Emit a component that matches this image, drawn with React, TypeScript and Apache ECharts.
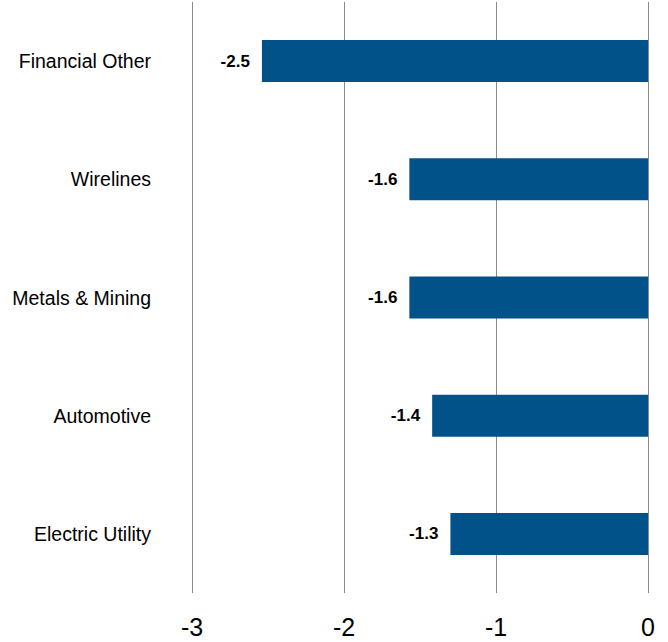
import React, { useEffect, useRef } from "react";
import * as echarts from "echarts";

const categories = ["Financial Other", "Wirelines", "Metals & Mining", "Automotive", "Electric Utility"];
const values = [-2.54, -1.57, -1.57, -1.42, -1.3];
const xTicks = [-3, -2, -1, 0];

export default function App() {
  const ref = useRef<HTMLDivElement>(null);
  useEffect(() => {
    if (!ref.current) return;
    const chart = echarts.init(ref.current, null, { renderer: "svg" });
    chart.setOption({
      animation: false,
      grid: { left: 192, right: 20, top: 2, bottom: 49, containLabel: false },
      xAxis: {
        type: "value",
        min: xTicks[0],
        max: xTicks[xTicks.length - 1],
        interval: 1,
        axisLine: { show: false },
        axisTick: { show: false },
        splitLine: { show: true, lineStyle: { color: "#8c8c8c", width: 1 } },
        axisLabel: {
          color: "#000",
          fontSize: 25,
          fontFamily: "Liberation Sans, Arial, sans-serif",
          margin: 21,
          formatter: (v: number) => String(v),
        },
      },
      yAxis: {
        type: "category",
        data: categories,
        inverse: true,
        axisLine: { show: false },
        axisTick: { show: false },
        splitLine: { show: false },
        axisLabel: {
          color: "#000",
          fontSize: 19.5,
          fontFamily: "Liberation Sans, Arial, sans-serif",
          margin: 41,
        },
      },
      series: [
        {
          type: "bar",
          data: values,
          barWidth: 42,
          itemStyle: { color: "#02528A" },
          label: {
            show: true,
            position: "left",
            distance: 12,
            color: "#000",
            fontWeight: "bold",
            fontSize: 17,
            fontFamily: "Liberation Sans, Arial, sans-serif",
            formatter: (p: any) => (p.value as number).toFixed(1),
          },
        },
      ],
    });
    return () => chart.dispose();
  }, []);
  return <div ref={ref} style={{ width: 668, height: 642, position: "absolute", left: 0, top: 0 }} />;
}
